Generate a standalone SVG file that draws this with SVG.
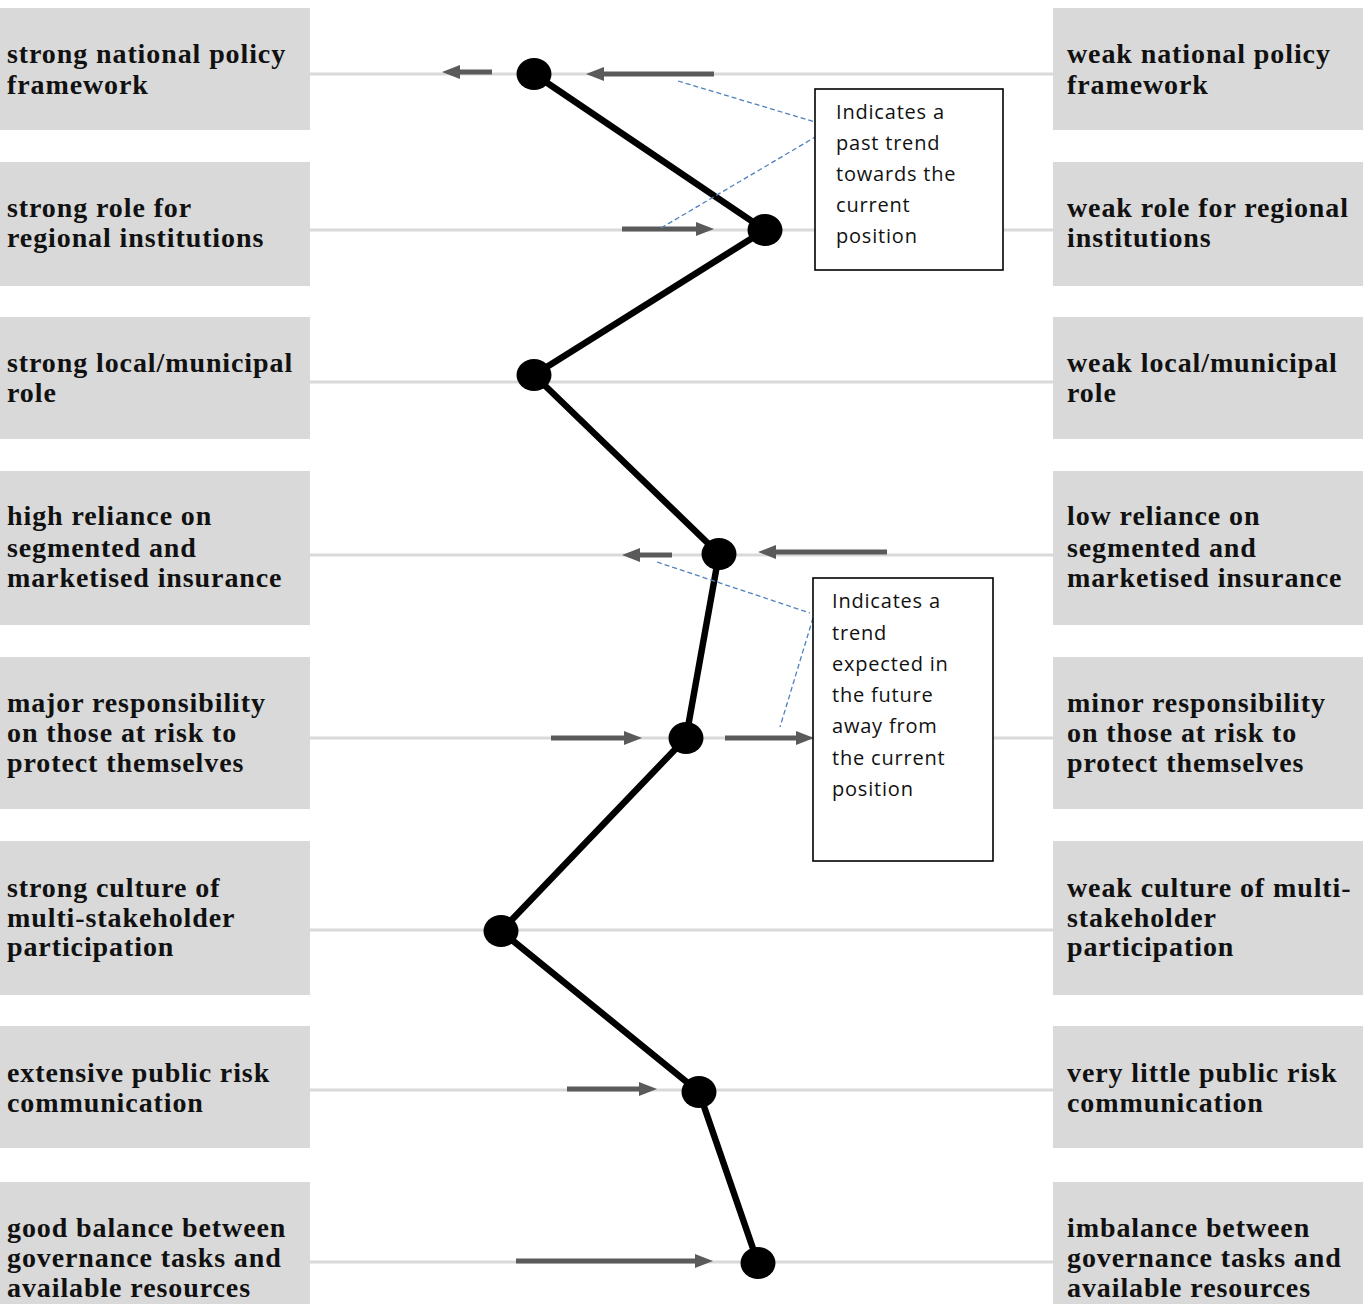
<svg xmlns="http://www.w3.org/2000/svg" width="1363" height="1304" viewBox="0 0 1363 1304">
<defs>
<style>
.box{fill:#d9d9d9}
.lbl{font-family:"Liberation Serif","Times New Roman",serif;font-weight:bold;font-size:28px;letter-spacing:0.9px;fill:#111}
.axis{stroke:#d9d9d9;stroke-width:3;fill:none}
.arr{stroke:#5a5a5a;stroke-width:5;fill:none}
.head{fill:#5a5a5a}
.dot{fill:#000}
.path{stroke:#000;stroke-width:6.5;fill:none;stroke-linejoin:round}
.note{fill:#fff;stroke:#000;stroke-width:1.6}
.nt{font-family:"Open Sans","Noto Sans",sans-serif;font-size:20px;letter-spacing:0.8px;fill:#111}
.lead{stroke:#4f81bd;stroke-width:1.3;stroke-dasharray:5 3;fill:none}
</style>
</defs>
<rect width="1363" height="1304" fill="#fff"/>
<g id="axes">
<line class="axis" x1="310" y1="74" x2="1053" y2="74"/>
<line class="axis" x1="310" y1="230" x2="1053" y2="230"/>
<line class="axis" x1="310" y1="382" x2="1053" y2="382"/>
<line class="axis" x1="310" y1="555" x2="1053" y2="555"/>
<line class="axis" x1="310" y1="738" x2="1053" y2="738"/>
<line class="axis" x1="310" y1="930" x2="1053" y2="930"/>
<line class="axis" x1="310" y1="1090" x2="1053" y2="1090"/>
<line class="axis" x1="310" y1="1262" x2="1053" y2="1262"/>
</g>
<g id="left-1"><rect class="box" x="0" y="8" width="310" height="122"/><text class="lbl" x="7" y="63">strong national policy</text><text class="lbl" x="7" y="94">framework</text></g>
<g id="left-2"><rect class="box" x="0" y="162" width="310" height="124"/><text class="lbl" x="7" y="217">strong role for</text><text class="lbl" x="7" y="247">regional institutions</text></g>
<g id="left-3"><rect class="box" x="0" y="317" width="310" height="122"/><text class="lbl" x="7" y="372">strong local/municipal</text><text class="lbl" x="7" y="402">role</text></g>
<g id="left-4"><rect class="box" x="0" y="471" width="310" height="154"/><text class="lbl" x="7" y="525">high reliance on</text><text class="lbl" x="7" y="557">segmented and</text><text class="lbl" x="7" y="587">marketised insurance</text></g>
<g id="left-5"><rect class="box" x="0" y="657" width="310" height="152"/><text class="lbl" x="7" y="712">major responsibility</text><text class="lbl" x="7" y="742">on those at risk to</text><text class="lbl" x="7" y="772">protect themselves</text></g>
<g id="left-6"><rect class="box" x="0" y="841" width="310" height="154"/><text class="lbl" x="7" y="897">strong culture of</text><text class="lbl" x="7" y="927">multi-stakeholder</text><text class="lbl" x="7" y="956">participation</text></g>
<g id="left-7"><rect class="box" x="0" y="1026" width="310" height="122"/><text class="lbl" x="7" y="1082">extensive public risk</text><text class="lbl" x="7" y="1112">communication</text></g>
<g id="left-8"><rect class="box" x="0" y="1182" width="310" height="122"/><text class="lbl" x="7" y="1237">good balance between</text><text class="lbl" x="7" y="1267">governance tasks and</text><text class="lbl" x="7" y="1297">available resources</text></g>
<g id="right-1"><rect class="box" x="1053" y="8" width="310" height="122"/><text class="lbl" x="1067" y="63">weak national policy</text><text class="lbl" x="1067" y="94">framework</text></g>
<g id="right-2"><rect class="box" x="1053" y="162" width="310" height="124"/><text class="lbl" x="1067" y="217">weak role for regional</text><text class="lbl" x="1067" y="247">institutions</text></g>
<g id="right-3"><rect class="box" x="1053" y="317" width="310" height="122"/><text class="lbl" x="1067" y="372">weak local/municipal</text><text class="lbl" x="1067" y="402">role</text></g>
<g id="right-4"><rect class="box" x="1053" y="471" width="310" height="154"/><text class="lbl" x="1067" y="525">low reliance on</text><text class="lbl" x="1067" y="557">segmented and</text><text class="lbl" x="1067" y="587">marketised insurance</text></g>
<g id="right-5"><rect class="box" x="1053" y="657" width="310" height="152"/><text class="lbl" x="1067" y="712">minor responsibility</text><text class="lbl" x="1067" y="742">on those at risk to</text><text class="lbl" x="1067" y="772">protect themselves</text></g>
<g id="right-6"><rect class="box" x="1053" y="841" width="310" height="154"/><text class="lbl" x="1067" y="897">weak culture of multi-</text><text class="lbl" x="1067" y="927">stakeholder</text><text class="lbl" x="1067" y="956">participation</text></g>
<g id="right-7"><rect class="box" x="1053" y="1026" width="310" height="122"/><text class="lbl" x="1067" y="1082">very little public risk</text><text class="lbl" x="1067" y="1112">communication</text></g>
<g id="right-8"><rect class="box" x="1053" y="1182" width="310" height="122"/><text class="lbl" x="1067" y="1237">imbalance between</text><text class="lbl" x="1067" y="1267">governance tasks and</text><text class="lbl" x="1067" y="1297">available resources</text></g>
<g id="connectors">
<polyline class="path" points="534,74 765,230 534,375 719,554 686,738 501,931 699,1092 758,1263"/>
<g id="trend-arrows">
<line class="arr" x1="492" y1="72" x2="458" y2="72"/><polygon class="head" points="442,72 460,65 460,79"/>
<line class="arr" x1="714" y1="74" x2="602" y2="74"/><polygon class="head" points="586,74 604,67 604,81"/>
<line class="arr" x1="622" y1="229" x2="698" y2="229"/><polygon class="head" points="714,229 696,222 696,236"/>
<line class="arr" x1="672" y1="555" x2="638" y2="555"/><polygon class="head" points="622,555 640,548 640,562"/>
<line class="arr" x1="887" y1="552" x2="774" y2="552"/><polygon class="head" points="758,552 776,545 776,559"/>
<line class="arr" x1="551" y1="738" x2="626" y2="738"/><polygon class="head" points="642,738 624,731 624,745"/>
<line class="arr" x1="725" y1="738" x2="798" y2="738"/><polygon class="head" points="814,738 796,731 796,745"/>
<line class="arr" x1="567" y1="1089" x2="641" y2="1089"/><polygon class="head" points="657,1089 639,1082 639,1096"/>
<line class="arr" x1="516" y1="1261" x2="697" y2="1261"/><polygon class="head" points="713,1261 695,1254 695,1268"/>
</g>
<g id="leaders">
<line class="lead" x1="678" y1="81" x2="815" y2="122"/>
<line class="lead" x1="817" y1="136" x2="661" y2="228"/>
<line class="lead" x1="657" y1="562" x2="810" y2="613"/>
<line class="lead" x1="813" y1="618" x2="780" y2="727"/>
</g>
</g>
<g id="dots">
<ellipse class="dot" cx="534" cy="74" rx="17.5" ry="16"/>
<ellipse class="dot" cx="765" cy="230" rx="17.5" ry="16"/>
<ellipse class="dot" cx="534" cy="375" rx="17.5" ry="16"/>
<ellipse class="dot" cx="719" cy="554" rx="17.5" ry="16"/>
<ellipse class="dot" cx="686" cy="738" rx="17.5" ry="16"/>
<ellipse class="dot" cx="501" cy="931" rx="17.5" ry="16"/>
<ellipse class="dot" cx="699" cy="1092" rx="17.5" ry="16"/>
<ellipse class="dot" cx="758" cy="1263" rx="17.5" ry="16"/>
</g>
<g id="note-past"><rect class="note" x="815" y="89" width="188" height="181"/>
<text class="nt" x="836" y="119">Indicates a</text><text class="nt" x="836" y="150">past trend</text><text class="nt" x="836" y="181">towards the</text><text class="nt" x="836" y="212">current</text><text class="nt" x="836" y="243">position</text></g>
<g id="note-future"><rect class="note" x="813" y="578" width="180" height="283"/>
<text class="nt" x="832" y="608">Indicates a</text><text class="nt" x="832" y="640">trend</text><text class="nt" x="832" y="671">expected in</text><text class="nt" x="832" y="702">the future</text><text class="nt" x="832" y="733">away from</text><text class="nt" x="832" y="765">the current</text><text class="nt" x="832" y="796">position</text></g>
</svg>
